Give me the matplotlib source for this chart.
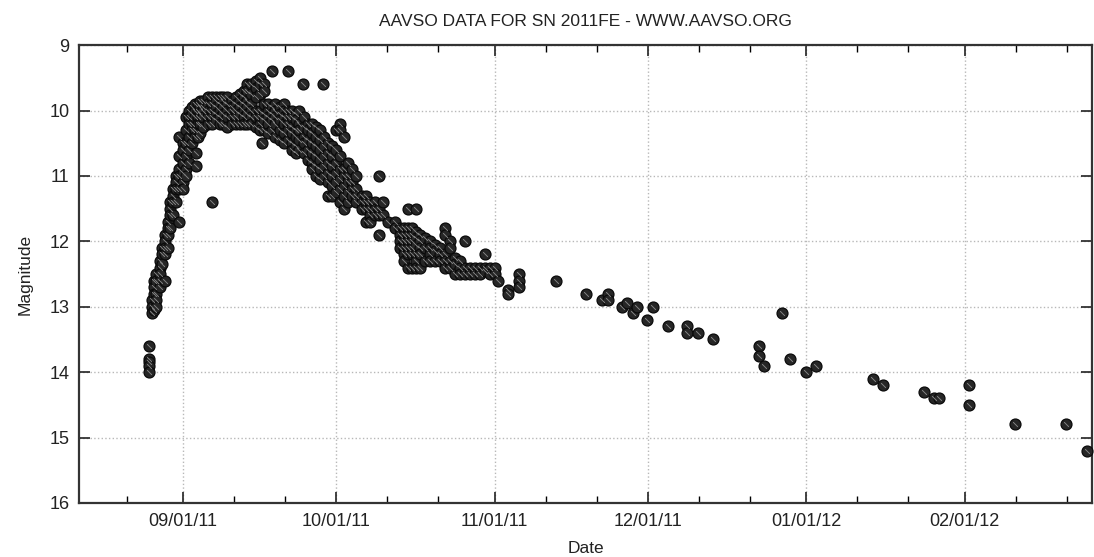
import datetime
import matplotlib
matplotlib.use("Agg")
import matplotlib.pyplot as plt
import matplotlib.dates as mdates

plt.rcParams['font.family'] = ['Liberation Sans', 'DejaVu Sans']

rise_obs = [
    (-6.6, [13.6, 13.8, 13.85, 13.9, 14.0]),
    (-6.0, [12.9, 13.0, 13.1]),
    (-5.6, [12.6, 12.7, 12.8, 13.05]),
    (-5.2, [12.5, 12.6, 12.8, 12.9, 13.0]),
    (-4.6, [12.3, 12.4, 12.5, 12.6, 12.7]),
    (-4.2, [12.1, 12.2, 12.35]),
    (-3.6, [11.9, 12.0, 12.1, 12.2, 12.6]),
    (-3.0, [11.7, 11.8, 11.9, 12.1]),
    (-2.5, [11.4, 11.5, 11.6, 11.8]),
    (-1.9, [11.2, 11.3, 11.4, 11.6]),
    (-1.3, [11.0, 11.1, 11.2, 11.4]),
    (-0.7, [10.4, 10.7, 10.9, 11.0, 11.2, 11.7]),
    (-0.1, [10.5, 10.6, 10.8, 10.95, 11.1, 11.2]),
    (0.5, [10.1, 10.3, 10.5, 10.7, 10.9, 11.0]),
    (1.1, [10.0, 10.1, 10.2, 10.4, 10.6, 10.8]),
    (1.7, [9.95, 10.05, 10.2, 10.3, 10.5]),
    (2.3, [9.9, 10.0, 10.1, 10.3, 10.4]),
    (2.6, [10.65, 10.85]),
]

peak_obs = [
    (2.9, [9.9, 10.0, 10.1, 10.2, 10.4]),
    (3.4, [9.85, 9.95, 10.05, 10.2, 10.35]),
    (4.0, [9.85, 9.95, 10.0, 10.1, 10.25]),
    (4.8, [9.8, 9.9, 10.0, 10.1, 10.2]),
    (5.6, [9.8, 9.9, 10.0, 10.1, 10.2, 11.4]),
    (6.4, [9.8, 9.85, 9.95, 10.05, 10.15]),
    (7.2, [9.8, 9.9, 10.0, 10.1, 10.2]),
    (7.9, [9.8, 9.85, 9.95, 10.05, 10.2]),
    (8.7, [9.8, 9.9, 10.0, 10.1, 10.25]),
    (9.5, [9.85, 9.95, 10.0, 10.1, 10.2]),
    (10.3, [9.8, 9.9, 10.0, 10.1, 10.2]),
    (11.1, [9.75, 9.85, 9.95, 10.05, 10.2]),
    (11.9, [9.7, 9.8, 9.9, 10.0, 10.1, 10.2]),
    (12.6, [9.6, 9.7, 9.85, 9.95, 10.05, 10.2]),
    (13.4, [9.6, 9.75, 9.9, 10.0, 10.1, 10.2]),
    (14.2, [9.55, 9.65, 9.8, 10.0, 10.1, 10.25]),
    (15.0, [9.5, 9.6, 9.75, 10.0, 10.1, 10.2, 10.3]),
    (15.4, [10.5]),
    (15.8, [9.6, 9.7, 9.9, 10.05, 10.15, 10.3]),
    (16.6, [9.9, 10.0, 10.1, 10.2, 10.35]),
    (17.4, [9.4, 9.95, 10.05, 10.15, 10.3]),
    (18.1, [9.9, 10.0, 10.1, 10.2, 10.4]),
    (18.9, [9.95, 10.05, 10.15, 10.3, 10.45]),
    (19.7, [9.9, 10.0, 10.1, 10.2, 10.35, 10.5]),
    (20.5, [9.4, 10.0, 10.1, 10.2, 10.3, 10.45]),
    (21.3, [10.0, 10.1, 10.25, 10.35, 10.5, 10.6]),
    (22.1, [10.05, 10.15, 10.3, 10.4, 10.55, 10.65]),
    (22.8, [10.0, 10.2, 10.3, 10.45, 10.6]),
    (23.4, [9.6]),
    (23.6, [10.1, 10.25, 10.4, 10.5, 10.65]),
    (24.4, [10.2, 10.3, 10.45, 10.6, 10.75]),
    (25.2, [10.2, 10.35, 10.5, 10.65, 10.8, 10.9]),
    (26.0, [10.25, 10.4, 10.55, 10.7, 10.85, 11.0]),
    (26.8, [10.3, 10.45, 10.6, 10.75, 10.9, 11.05]),
    (27.4, [9.6]),
    (27.6, [10.4, 10.55, 10.7, 10.85, 11.0]),
]

decline_obs = [
    (28.3, [10.5, 10.65, 10.8, 10.95, 11.1, 11.3]),
    (29.1, [10.55, 10.7, 10.85, 11.0, 11.15, 11.3]),
    (29.9, [10.3, 10.6, 10.8, 10.95, 11.1, 11.25]),
    (30.7, [10.2, 10.3, 10.7, 10.9, 11.05, 11.2, 11.4]),
    (31.5, [10.4, 10.9, 11.0, 11.15, 11.3, 11.5]),
    (32.3, [10.8, 11.0, 11.1, 11.25, 11.4]),
    (33.0, [10.9, 11.1, 11.2, 11.3]),
    (33.8, [11.0, 11.2, 11.3, 11.4]),
    (35.0, [11.3, 11.4, 11.5]),
    (35.8, [11.3, 11.4, 11.5, 11.7]),
    (36.6, [11.4, 11.5, 11.6, 11.7]),
    (37.5, [11.4, 11.5, 11.6]),
    (38.3, [11.0, 11.5, 11.6, 11.9]),
    (39.1, [11.4, 11.6]),
    (40.1, [11.7]),
    (41.5, [11.7, 11.8]),
    (42.5, [11.8, 11.9, 12.0, 12.1]),
    (43.2, [11.8, 11.9, 12.0, 12.1, 12.2, 12.3]),
    (44.0, [11.5, 11.8, 11.9, 12.0, 12.1, 12.2, 12.4]),
    (44.8, [11.8, 11.9, 12.0, 12.1, 12.2, 12.4]),
    (45.6, [11.5, 11.85, 11.95, 12.05, 12.2, 12.3, 12.4]),
    (46.4, [11.9, 12.0, 12.1, 12.2, 12.4]),
    (47.4, [11.95, 12.1, 12.3]),
    (48.3, [12.0, 12.1, 12.2, 12.3]),
    (49.3, [12.05, 12.15, 12.3]),
    (50.3, [12.1, 12.2, 12.3]),
    (51.3, [11.8, 11.9, 12.2, 12.3, 12.4]),
    (52.3, [12.0, 12.1, 12.3, 12.4]),
    (53.2, [12.25, 12.35, 12.5]),
    (54.2, [12.3, 12.4, 12.5]),
    (55.2, [12.0, 12.4, 12.5]),
    (56.2, [12.4, 12.5]),
    (57.2, [12.4, 12.5]),
    (58.1, [12.4, 12.5]),
    (59.1, [12.2, 12.4, 12.45]),
    (60.1, [12.4, 12.5]),
    (61.1, [12.4, 12.5]),
    (61.6, [12.6]),
    (63.6, [12.75, 12.8]),
    (65.8, [12.5, 12.6, 12.7]),
]

tail_obs = [
    (73.0, [12.6]),
    (78.9, [12.8]),
    (82.1, [12.9]),
    (83.1, [12.8, 12.9]),
    (86.0, [13.0]),
    (87.0, [12.95]),
    (88.0, [13.1]),
    (88.9, [13.0]),
    (90.9, [13.2]),
    (91.9, [13.0]),
    (95.0, [13.3]),
    (98.7, [13.3, 13.4]),
    (100.9, [13.4]),
    (103.8, [13.5]),
    (112.8, [13.6, 13.75]),
    (113.8, [13.9]),
    (117.2, [13.1]),
    (118.9, [13.8]),
    (121.9, [14.0]),
    (124.0, [13.9]),
    (135.0, [14.1]),
    (137.0, [14.2]),
    (145.0, [14.3]),
    (147.0, [14.4]),
    (148.0, [14.4]),
    (153.8, [14.2, 14.5]),
    (162.8, [14.8]),
    (172.8, [14.8]),
    (176.9, [15.2]),
]

x_start = -20.3  # days relative to 09/01/11
x_end = 178.0


def build_points():
    base = mdates.date2num(datetime.datetime(2011, 9, 1))
    xs, ys = [], []
    for group in (rise_obs, peak_obs, decline_obs, tail_obs):
        for day, mags in group:
            for m in mags:
                xs.append(base + day)
                ys.append(m)
    return base, xs, ys


def main():
    base, xs, ys = build_points()

    fig = plt.figure(figsize=(10.94, 5.57), dpi=100)
    ax = fig.add_axes([0.0725, 0.097, 0.926, 0.822])

    # dark circles with a faint diagonal glint, like the AAVSO plotter markers
    ax.scatter(xs, ys, s=62, facecolor='#262626', edgecolor='#0a0a0a', linewidth=0.9,
               zorder=3, clip_on=False)
    ax.scatter(xs, ys, s=18, marker=(2, 2, 45), color='#7a7a7a', linewidth=0.5,
               zorder=4, clip_on=False)

    ax.set_xlim(base + x_start, base + x_end)
    ax.set_ylim(16, 9)

    ax.xaxis.set_major_locator(mdates.MonthLocator(bymonthday=1))
    ax.xaxis.set_minor_locator(mdates.DayLocator(bymonthday=[11, 21]))
    ax.xaxis.set_major_formatter(mdates.DateFormatter('%m/%d/%y'))
    ax.set_yticks(range(9, 17))

    ax.grid(True, which='major', linestyle=':', color='#b8b8b8', linewidth=1.0)
    ax.tick_params(which='major', direction='in', length=8, width=1.2,
                   top=True, right=True, labelsize=13, colors='#222222', pad=7)
    ax.tick_params(which='minor', direction='in', length=5, width=1.0,
                   top=True, right=True)
    for sp in ax.spines.values():
        sp.set_linewidth(1.6)
        sp.set_color('#333333')

    ax.set_xlabel('Date', fontsize=12.5, color='#222222', labelpad=8)
    ax.set_ylabel('Magnitude', fontsize=12.5, color='#222222', labelpad=12)
    ax.set_title('AAVSO DATA FOR SN 2011FE - WWW.AAVSO.ORG', fontsize=12.5,
                 color='#222222', pad=14)

    fig.savefig('out.png', dpi=100)
    plt.close(fig)


if __name__ == "__main__":
    main()
